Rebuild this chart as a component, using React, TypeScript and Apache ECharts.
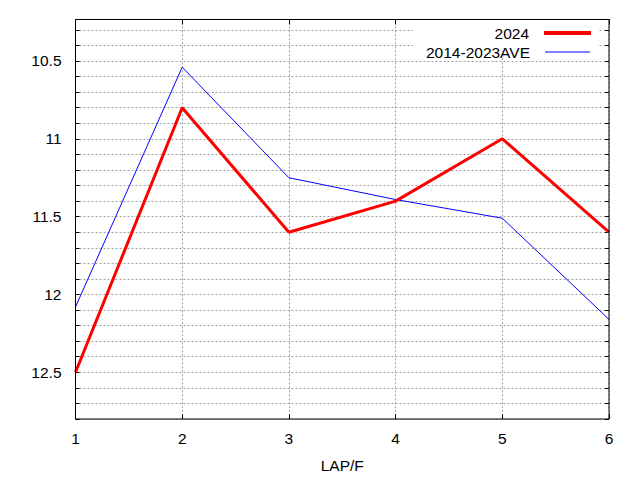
import React, { useEffect, useRef } from "react";
import * as echarts from "echarts";

const laps = [1, 2, 3, 4, 5, 6];
const series2024 = [12.5, 10.8, 11.6, 11.4, 11.0, 11.6];
const seriesAve = [12.08, 10.54, 11.25, 11.39, 11.51, 12.16];
const seriesNames = ["2024", "2014-2023AVE"];
const xName = "LAP/F";

const FONT = "Liberation Sans, Arial, sans-serif";
const GRID = { type: [2, 2], color: "#a0a0a0", width: 1 };

export default function App() {
  const ref = useRef<HTMLDivElement>(null);
  useEffect(() => {
    if (!ref.current) return;
    const chart = echarts.init(ref.current, undefined, { renderer: "svg" });
    const yLabel = (v: number) =>
      Math.abs(v * 2 - Math.round(v * 2)) < 1e-6 ? String(Math.round(v * 10) / 10) : "";
    chart.setOption({
      animation: false,
      backgroundColor: "#fff",
      textStyle: { fontFamily: FONT },
      grid: { left: 75.5, right: 31, top: 14.3, bottom: 61, containLabel: false },
      xAxis: [
        {
          type: "value",
          min: 1,
          max: 6,
          interval: 1,
          position: "bottom",
          name: xName,
          nameLocation: "middle",
          nameGap: 38,
          nameTextStyle: { color: "#000", fontSize: 15.5, fontFamily: FONT },
          axisLine: { show: false },
          axisTick: { show: true, inside: true, length: 5, lineStyle: { color: "#000" } },
          axisLabel: { color: "#000", fontSize: 15.5, margin: 11, fontFamily: FONT },
          splitLine: { show: true, lineStyle: GRID },
        },
        {
          type: "value",
          min: 1,
          max: 6,
          interval: 1,
          position: "top",
          offset: -5.2,
          axisLine: { show: false },
          axisTick: { show: true, inside: true, length: 5, lineStyle: { color: "#000" } },
          axisLabel: { show: false },
          splitLine: { show: false },
        },
      ],
      yAxis: [
        {
          type: "value",
          inverse: true,
          min: 10.2,
          max: 12.8,
          interval: 0.1,
          position: "left",
          axisLine: { show: false },
          axisTick: { show: true, inside: true, length: 4, lineStyle: { color: "#000" } },
          axisLabel: { color: "#000", fontSize: 15.5, margin: 14, fontFamily: FONT, formatter: yLabel },
          splitLine: { show: true, lineStyle: GRID },
        },
        {
          type: "value",
          inverse: true,
          min: 10.2,
          max: 12.8,
          interval: 0.1,
          position: "right",
          axisLine: { show: false },
          axisTick: { show: true, inside: true, length: 4, lineStyle: { color: "#000" } },
          axisLabel: { show: false },
          splitLine: { show: false },
        },
      ],
      legend: [
        {
          data: [{ name: seriesNames[0], icon: "rect" }],
          right: 49,
          top: 25,
          align: "right",
          orient: "vertical",
          padding: 0,
          itemWidth: 47,
          itemHeight: 4,
          selectedMode: false,
          textStyle: { color: "#000", fontSize: 15.5, fontFamily: FONT, padding: [0, 10, 0, 0] },
        },
        {
          data: [{ name: seriesNames[1], icon: "rect" }],
          right: 50,
          top: 44,
          align: "right",
          orient: "vertical",
          padding: 0,
          itemWidth: 45,
          itemHeight: 1,
          selectedMode: false,
          textStyle: { color: "#000", fontSize: 15.5, fontFamily: FONT, padding: [0, 10, 0, 0] },
        },
      ],
      graphic: [
        { type: "rect", z: 3, silent: true, shape: { x: 413, y: 20, width: 185, height: 37 }, style: { fill: "#fff" } },
        { type: "rect", z: 10, silent: true, shape: { x: 0, y: 0, width: 640, height: 19 }, style: { fill: "#fff" } },
        {
          type: "rect",
          z: 11,
          silent: true,
          shape: { x: 75.5, y: 19.5, width: 533.5, height: 399.5 },
          style: { fill: "none", stroke: "#000", lineWidth: 1 },
        },
      ],
      series: [
        {
          name: seriesNames[0],
          type: "line",
          data: laps.map((x, i) => [x, series2024[i]]),
          showSymbol: false,
          symbol: "none",
          lineStyle: { color: "#ff0000", width: 3 },
          itemStyle: { color: "#ff0000" },
          z: 3,
        },
        {
          name: seriesNames[1],
          type: "line",
          data: laps.map((x, i) => [x, seriesAve[i]]),
          showSymbol: false,
          symbol: "none",
          lineStyle: { color: "#0000ff", width: 1 },
          itemStyle: { color: "#0000ff" },
          z: 2,
        },
      ],
    });
    return () => chart.dispose();
  }, []);
  return <div ref={ref} style={{ width: 640, height: 480, position: "absolute", left: 0, top: 0 }} />;
}
